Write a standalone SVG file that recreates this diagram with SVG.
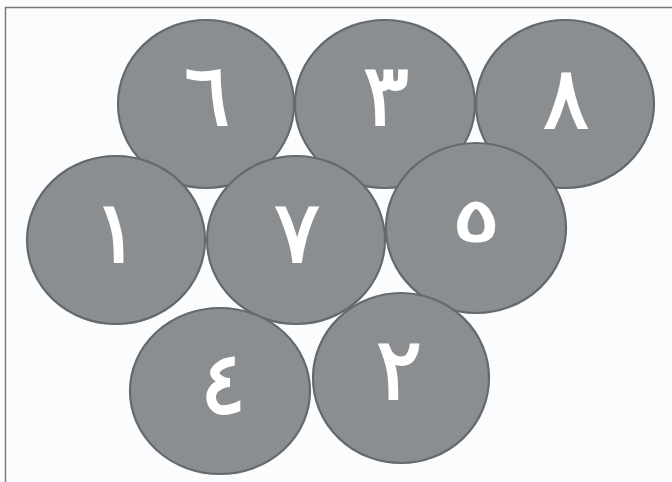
<svg xmlns="http://www.w3.org/2000/svg" width="672" height="482" viewBox="0 0 672 482">
<style>
.c{fill:#8b8e91;stroke:#66696c;stroke-width:2.2}
.t{fill:#ffffff;stroke:#ffffff;stroke-width:2;font-family:"DejaVu Sans",sans-serif;font-size:86px;text-anchor:middle}
</style>
<rect x="0" y="0" width="672" height="482" fill="#fbfcfd"/>
<path d="M5.5,482 V7.5 H672" fill="none" stroke="#7a7d80" stroke-width="1.5"/>
<g id="n6"><ellipse class="c" cx="206" cy="104" rx="88" ry="84"/><text class="t" x="207" y="125">٦</text></g>
<g id="n3"><ellipse class="c" cx="385" cy="104" rx="90" ry="84"/><text class="t" x="386" y="125">٣</text></g>
<g id="n8"><ellipse class="c" cx="565" cy="104" rx="89" ry="84"/><text class="t" x="566" y="128">٨</text></g>
<g id="n1"><ellipse class="c" cx="116" cy="240" rx="89" ry="84"/><text class="t" x="116" y="262">١</text></g>
<g id="n7"><ellipse class="c" cx="296" cy="240" rx="89" ry="84"/><text class="t" x="297" y="262">٧</text></g>
<g id="n5"><ellipse class="c" cx="476" cy="228" rx="90" ry="85"/><text class="t" transform="translate(476,241) scale(1.45,1)" x="0" y="0" style="font-size:60px">٥</text></g>
<g id="n4"><ellipse class="c" cx="220" cy="391" rx="90" ry="83"/><text class="t" x="223" y="413">٤</text></g>
<g id="n2"><ellipse class="c" cx="401" cy="378" rx="88" ry="85"/><text class="t" x="399" y="399">٢</text></g>
<g id="connectors"/>
</svg>
